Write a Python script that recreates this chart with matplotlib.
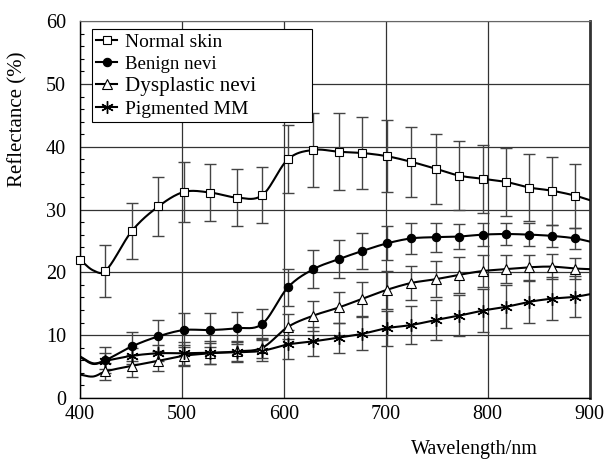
import numpy as np
import matplotlib.pyplot as plt
from matplotlib.ticker import MultipleLocator

plt.rcParams['font.family'] = ['Liberation Serif', 'DejaVu Serif']

# marker wavelengths (nm)
wl = [425, 451, 477, 502, 528, 554, 579, 604, 629, 654, 677, 701, 725, 749,
      772, 795, 818, 841, 863, 886]

# extra line-only points: left edge, small dip, right edge
edge_x = [400, 413, 900]

normal = [20.2, 26.6, 30.5, 32.8, 32.7, 31.9, 32.3, 38.0, 39.5, 39.2, 39.0, 38.5,
          37.6, 36.5, 35.4, 34.9, 34.4, 33.5, 33.0, 32.2]
normal_err = [4.1, 4.5, 4.7, 4.8, 4.6, 4.5, 4.4, 5.4, 5.9, 6.1, 5.7, 5.7, 5.6,
              5.6, 5.5, 5.4, 5.4, 5.3, 5.4, 5.1]
normal_edge = [22.0, 20.3, 31.5]

benign = [6.0, 8.2, 9.8, 10.8, 10.8, 11.1, 11.8, 17.6, 20.5, 22.1, 23.4, 24.6,
          25.4, 25.6, 25.7, 26.0, 26.1, 26.0, 25.8, 25.4]
benign_err = [2.1, 2.3, 2.6, 2.7, 2.7, 2.5, 2.4, 2.9, 3.0, 3.0, 2.8, 2.7, 2.45,
              2.3, 2.0, 1.8, 1.8, 1.8, 1.8, 1.65]
benign_edge = [6.5, 5.4, 24.9]

dysplastic = [4.2, 5.1, 5.9, 6.7, 7.1, 7.4, 8.0, 11.3, 13.1, 14.4, 15.8, 17.2,
              18.3, 18.9, 19.6, 20.2, 20.5, 20.8, 20.9, 20.6]
dysplastic_err = [1.3, 1.8, 1.6, 1.7, 1.7, 1.6, 1.6, 2.0, 2.4, 2.4, 2.7, 3.0,
                  2.7, 2.85, 2.9, 2.6, 2.25, 2.0, 2.0, 1.7]
dysplastic_edge = [3.7, 3.4, 20.5]

mm = [5.9, 6.7, 7.1, 7.1, 7.2, 7.25, 7.5, 8.5, 9.0, 9.6, 10.2, 11.1, 11.6, 12.4,
      13.1, 13.9, 14.5, 15.3, 15.8, 16.1]
mm_err = [1.3, 1.3, 1.3, 1.8, 1.8, 1.6, 1.7, 2.3, 2.3, 2.4, 2.6, 2.8, 3.0, 3.2,
          3.3, 3.4, 3.4, 3.3, 3.4, 3.3]
mm_edge = [6.6, 5.5, 16.5]


def smooth(xs, ys, n=20):
    # cubic hermite through the points (like a spreadsheet "smoothed line")
    xs = np.asarray(xs, float)
    ys = np.asarray(ys, float)
    m = np.zeros_like(ys)
    m[1:-1] = (ys[2:] - ys[:-2]) / (xs[2:] - xs[:-2])
    m[0] = (ys[1] - ys[0]) / (xs[1] - xs[0])
    m[-1] = (ys[-1] - ys[-2]) / (xs[-1] - xs[-2])
    ox, oy = [], []
    for i in range(len(xs) - 1):
        h = xs[i + 1] - xs[i]
        t = np.linspace(0, 1, n, endpoint=False)
        h00 = 2 * t**3 - 3 * t**2 + 1
        h10 = t**3 - 2 * t**2 + t
        h01 = -2 * t**3 + 3 * t**2
        h11 = t**3 - t**2
        ox.append(xs[i] + t * h)
        oy.append(h00 * ys[i] + h10 * h * m[i] + h01 * ys[i + 1] + h11 * h * m[i + 1])
    ox.append([xs[-1]])
    oy.append([ys[-1]])
    return np.concatenate(ox), np.concatenate(oy)


fig = plt.figure(figsize=(6.06, 4.61), dpi=100)
ax = fig.add_axes([0.132, 0.137, 0.841, 0.817])

series = [
    ('Normal skin', normal, normal_err, normal_edge,
     dict(marker='s', ms=6, mfc='white', mec='black', mew=0.8)),
    ('Benign nevi', benign, benign_err, benign_edge,
     dict(marker='o', ms=6, mfc='black', mec='black', mew=0.8)),
    ('Dysplastic nevi', dysplastic, dysplastic_err, dysplastic_edge,
     dict(marker='^', ms=7, mfc='white', mec='black', mew=0.8)),
    ('Pigmented MM', mm, mm_err, mm_edge,
     dict(marker=(6, 2, 0), ms=9, mfc='black', mec='black', mew=1.0)),
]

handles = []
for name, vals, err, edge, mk in series:
    ax.errorbar(wl, vals, yerr=err, fmt='none', ecolor='#444444', elinewidth=1.0,
                capsize=4, capthick=1.0, zorder=2)
    xs = edge_x[:2] + wl + edge_x[2:]
    ys = edge[:2] + vals + edge[2:]
    sx, sy = smooth(xs, ys)
    ax.plot(sx, sy, color='black', lw=1.5, zorder=3)
    ax.plot(wl, vals, ls='none', zorder=4, **mk)
    h, = ax.plot([], [], color='black', lw=1.5, label=name, **mk)
    handles.append(h)

# normal skin marker sits on the left edge
ax.plot([edge_x[0]], [normal_edge[0]], ls='none', marker='s', ms=6, mfc='white',
        mec='black', mew=0.8, zorder=4, clip_on=False)

ax.set_xlim(400, 900)
ax.set_ylim(0, 60)
ax.set_xticks([400, 500, 600, 700, 800, 900])
ax.set_yticks([0, 10, 20, 30, 40, 50, 60])
ax.yaxis.set_minor_locator(MultipleLocator(2))
ax.tick_params(axis='both', which='major', direction='in', length=0, labelsize=14.5)
ax.tick_params(axis='x', which='major', pad=5)
ax.tick_params(axis='y', which='major', pad=10)
ax.tick_params(axis='y', which='minor', direction='in', length=3, width=0.8)
ax.grid(True, which='major', color='#333333', lw=0.9)
for s in ['left', 'bottom']:
    ax.spines[s].set_linewidth(1.0)
ax.spines['top'].set_color('#666666')
ax.spines['right'].set_linewidth(2.0)
ax.spines['right'].set_color('#333333')

ax.set_ylabel('Reflectance (%)', fontsize=15, va='center')
ax.yaxis.set_label_coords(-0.122, 0.74)
ax.set_xlabel('Wavelength/nm', fontsize=14.5, va='center')
ax.xaxis.set_label_coords(0.773, -0.138)

leg = ax.legend(handles=handles, loc='upper left',
                bbox_to_anchor=(0.0235, 0.0, 0.431, 0.979), mode='expand',
                fontsize=14, frameon=True, fancybox=False, edgecolor='black',
                framealpha=1, handlelength=1.1, handletextpad=0.4,
                borderpad=0.2, labelspacing=0.22, borderaxespad=0)
leg.get_frame().set_linewidth(0.8)
for txt, fs in zip(leg.get_texts(), [14, 13.5, 15.2, 14]):
    txt.set_fontsize(fs)

fig.savefig('out.png', dpi=100)
